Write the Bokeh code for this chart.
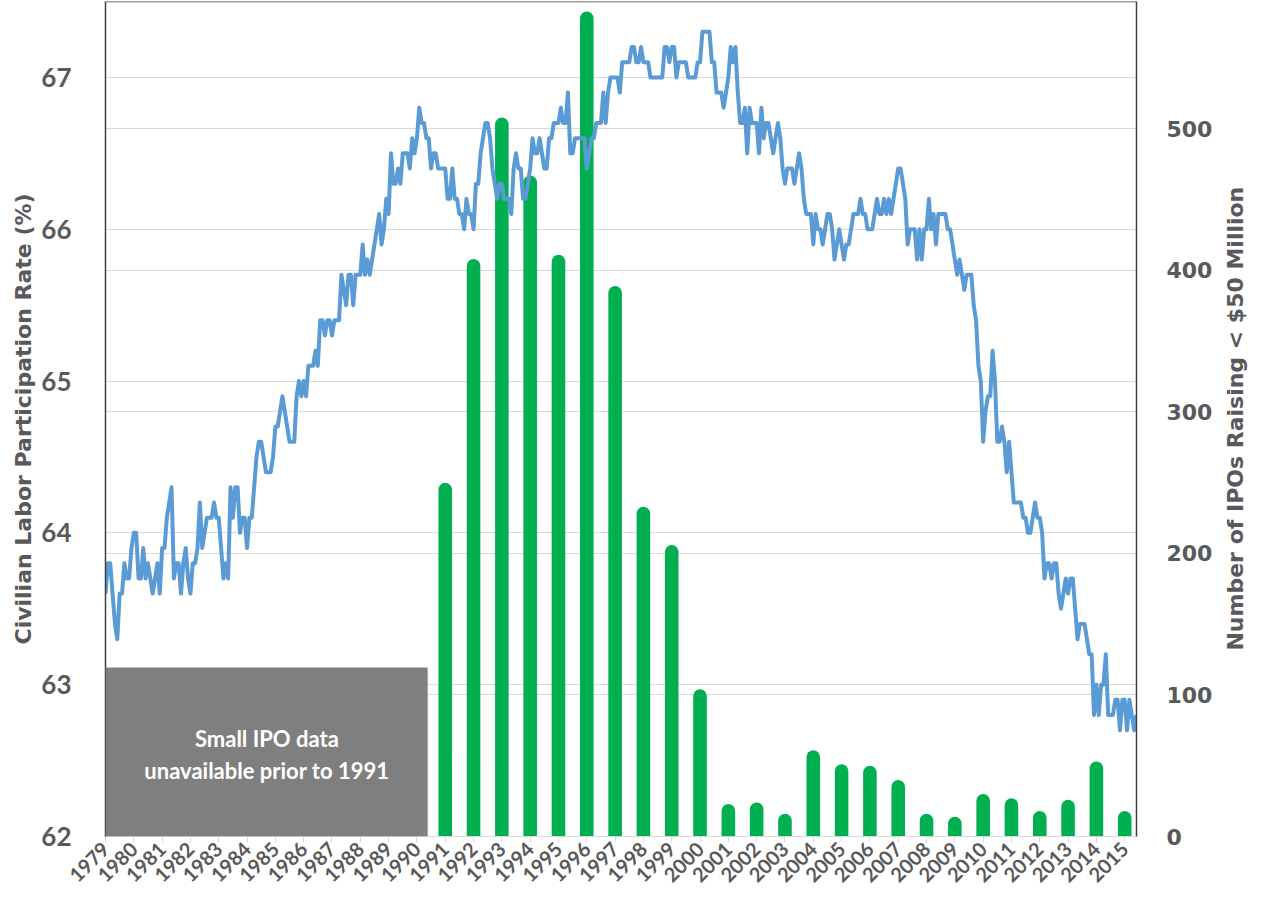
import math
from bokeh.plotting import figure
from bokeh.layouts import row
from bokeh.models import (Range1d, LinearAxis, FixedTicker, Grid, BoxAnnotation,
                          Label, Span)
from bokeh.embed import file_html
from bokeh.resources import INLINE

# ---------------- data ----------------
years = list(range(1979, 2016))
year_labels = [str(y) for y in years]

ipo_years = list(range(1991, 2016))
ipo_counts = [250, 408, 508, 467, 411, 583, 389, 233, 206, 104,
              23, 24, 16, 61, 51, 50, 40, 16, 14, 30,
              27, 18, 26, 53, 18]

# Civilian labor force participation rate, monthly from Jan 1979
lfpr_start = 1979
lfpr = [
    63.6, 63.8, 63.8, 63.6, 63.4, 63.3, 63.6, 63.6, 63.8, 63.7, 63.7, 63.9,  # 1979
    64.0, 64.0, 63.7, 63.7, 63.9, 63.7, 63.8, 63.7, 63.6, 63.7, 63.8, 63.6,  # 1980
    63.9, 63.9, 64.1, 64.2, 64.3, 63.7, 63.8, 63.8, 63.6, 63.8, 63.9, 63.7,  # 1981
    63.6, 63.8, 63.8, 63.9, 64.2, 63.9, 64.0, 64.1, 64.1, 64.1, 64.2, 64.1,  # 1982
    64.1, 63.9, 63.7, 63.8, 63.7, 64.3, 64.1, 64.3, 64.3, 64.0, 64.1, 64.1,  # 1983
    63.9, 64.1, 64.1, 64.3, 64.5, 64.6, 64.6, 64.5, 64.4, 64.4, 64.4, 64.5,  # 1984
    64.7, 64.7, 64.8, 64.9, 64.8, 64.7, 64.6, 64.6, 64.6, 64.9, 65.0, 64.9,  # 1985
    65.0, 64.9, 65.1, 65.1, 65.1, 65.2, 65.1, 65.4, 65.4, 65.3, 65.4, 65.4,  # 1986
    65.3, 65.4, 65.4, 65.4, 65.7, 65.6, 65.5, 65.7, 65.7, 65.5, 65.7, 65.7,  # 1987
    65.7, 65.9, 65.7, 65.8, 65.7, 65.8, 65.9, 66.0, 66.1, 65.9, 66.0, 66.2,  # 1988
    66.1, 66.5, 66.3, 66.3, 66.4, 66.3, 66.5, 66.5, 66.5, 66.4, 66.6, 66.5,  # 1989
    66.6, 66.8, 66.7, 66.7, 66.6, 66.6, 66.4, 66.5, 66.5, 66.4, 66.4, 66.4,  # 1990
    66.4, 66.2, 66.2, 66.4, 66.2, 66.2, 66.1, 66.1, 66.0, 66.2, 66.1, 66.1,  # 1991
    66.0, 66.3, 66.3, 66.5, 66.6, 66.7, 66.7, 66.6, 66.4, 66.3, 66.2, 66.3,  # 1992
    66.3, 66.2, 66.2, 66.2, 66.1, 66.4, 66.5, 66.4, 66.4, 66.2, 66.2, 66.3,  # 1993
    66.4, 66.6, 66.5, 66.5, 66.6, 66.5, 66.4, 66.4, 66.6, 66.6, 66.7, 66.7,  # 1994
    66.7, 66.8, 66.7, 66.7, 66.9, 66.5, 66.5, 66.6, 66.6, 66.6, 66.6, 66.6,  # 1995
    66.4, 66.5, 66.6, 66.6, 66.7, 66.7, 66.7, 66.9, 66.7, 66.9, 67.0, 67.0,  # 1996
    67.0, 67.0, 66.9, 67.1, 67.1, 67.1, 67.1, 67.2, 67.2, 67.1, 67.1, 67.2,  # 1997
    67.1, 67.1, 67.1, 67.0, 67.0, 67.0, 67.0, 67.0, 67.0, 67.2, 67.2, 67.1,  # 1998
    67.2, 67.2, 67.0, 67.1, 67.1, 67.1, 67.1, 67.0, 67.0, 67.0, 67.0, 67.1,  # 1999
    67.1, 67.3, 67.3, 67.3, 67.3, 67.1, 67.1, 66.9, 66.9, 66.9, 66.8, 66.9,  # 2000
    67.0, 67.2, 67.1, 67.2, 66.9, 66.7, 66.7, 66.8, 66.5, 66.8, 66.7, 66.7,  # 2001
    66.7, 66.5, 66.8, 66.6, 66.7, 66.7, 66.6, 66.5, 66.6, 66.7, 66.6, 66.4,  # 2002
    66.3, 66.4, 66.4, 66.4, 66.3, 66.4, 66.5, 66.4, 66.2, 66.1, 66.1, 66.1,  # 2003
    65.9, 66.1, 66.0, 66.0, 65.9, 66.0, 66.1, 66.1, 66.0, 65.8, 65.9, 66.0,  # 2004
    65.9, 65.8, 65.9, 65.9, 66.0, 66.1, 66.1, 66.1, 66.2, 66.1, 66.1, 66.0,  # 2005
    66.0, 66.0, 66.1, 66.2, 66.1, 66.1, 66.2, 66.1, 66.2, 66.1, 66.2, 66.3,  # 2006
    66.4, 66.4, 66.3, 66.2, 65.9, 66.0, 66.0, 66.0, 65.8, 66.0, 65.8, 66.0,  # 2007
    66.0, 66.2, 66.0, 66.1, 65.9, 66.1, 66.1, 66.1, 66.1, 66.0, 66.0, 65.9,  # 2008
    65.8, 65.7, 65.8, 65.7, 65.6, 65.7, 65.7, 65.7, 65.5, 65.4, 65.1, 65.0,  # 2009
    64.6, 64.8, 64.9, 64.9, 65.2, 65.0, 64.6, 64.6, 64.7, 64.6, 64.4, 64.6,  # 2010
    64.4, 64.2, 64.2, 64.2, 64.2, 64.1, 64.1, 64.0, 64.0, 64.1, 64.2, 64.1,  # 2011
    64.1, 64.0, 63.7, 63.8, 63.8, 63.7, 63.8, 63.8, 63.6, 63.5, 63.6, 63.7,  # 2012
    63.6, 63.7, 63.7, 63.5, 63.3, 63.4, 63.4, 63.4, 63.3, 63.2, 63.2, 62.8,  # 2013
    63.0, 62.8, 63.0, 63.0, 63.2, 62.8, 62.8, 62.8, 62.9, 62.9, 62.7, 62.9,  # 2014
    62.9, 62.7, 62.9, 62.8, 62.7, 62.8,                                      # 2015
]

left_ticks = [62, 63, 64, 65, 66, 67]
right_ticks = [0, 100, 200, 300, 400, 500]

left_title = "Civilian Labor Participation Rate (%)"
right_title = "Number of IPOs Raising < $50  Million"
note_lines = ["Small IPO data", "unavailable prior to 1991"]

# ---------------- figure ----------------
TXT = "#595959"
GRID = "#D9D9D9"
DARK = "#404040"

lfpr_x = [lfpr_start + i / 12 for i in range(len(lfpr))]
x_end = lfpr_x[-1]

FRAME_W, FRAME_H = 1031, 835
B_LEFT, B_RIGHT, B_TOP, B_BOTTOM = 105, 80, 1, 60
p = figure(frame_width=FRAME_W, frame_height=FRAME_H,
           x_range=Range1d(lfpr_start, x_end), y_range=Range1d(62, 67.5),
           output_backend="svg", toolbar_location=None,
           min_border_left=B_LEFT, min_border_right=B_RIGHT,
           min_border_top=B_TOP, min_border_bottom=B_BOTTOM)
p.extra_y_ranges = {"ipo": Range1d(0, 590)}
p.outline_line_color = None
p.background_fill_color = "white"
p.border_fill_color = "white"

# grids
p.xgrid.grid_line_color = None
p.ygrid.ticker = FixedTicker(ticks=left_ticks)
p.ygrid.grid_line_color = GRID
p.ygrid.grid_line_width = 1.2
g2 = Grid(dimension=1, ticker=FixedTicker(ticks=right_ticks), y_range_name="ipo",
          grid_line_color=GRID, grid_line_width=1.2)
p.add_layout(g2)

# bars
p.vbar(x=ipo_years, top=ipo_counts, bottom=0, width=0.48, y_range_name="ipo",
       fill_color="#00B050", line_color=None, border_radius=(7, 7, 0, 0))

# line
p.line(x=lfpr_x, y=lfpr, line_color="#5B9BD5", line_width=4, line_join="round")

# note box
box = BoxAnnotation(left=lfpr_start, right=1990.38, bottom=62, top=63.113,
                    fill_color="#7F7F7F", fill_alpha=1.0, line_color=None)
p.add_layout(box)
for txt, yy in zip(note_lines, [62.646, 62.435]):
    p.add_layout(Label(x=1984.7, y=yy, text=txt, text_align="center",
                       text_baseline="middle", text_color="white",
                       text_font="Lato", text_font_style="bold",
                       text_font_size="22px"))

# top border
p.add_layout(Span(location=67.5, dimension="width", line_color=DARK, line_width=1.5))

# x axis
xa = p.xaxis[0]
xa.ticker = FixedTicker(ticks=years)
xa.major_label_overrides = {y: s for y, s in zip(years, year_labels)}
xa.major_label_orientation = math.pi / 4
xa.major_label_text_font = "Lato"
xa.major_label_text_font_style = "bold"
xa.major_label_text_font_size = "20px"
xa.major_label_text_color = TXT
xa.axis_line_color = GRID
xa.axis_line_width = 1.2
xa.major_tick_line_color = GRID
xa.major_tick_out = 6
xa.major_tick_in = 0
xa.minor_tick_line_color = None
xa.major_label_standoff = 3

# left axis
ya = p.yaxis[0]
ya.ticker = FixedTicker(ticks=left_ticks)
ya.axis_line_color = DARK
ya.axis_line_width = 1.5
ya.major_tick_line_color = None
ya.minor_tick_line_color = None
ya.major_label_text_font = "Lato"
ya.major_label_text_font_style = "bold"
ya.major_label_text_font_size = "26px"
ya.major_label_text_color = TXT
ya.major_label_standoff = 28
ya.axis_label = left_title
ya.axis_label_text_font = "DejaVu Sans"
ya.axis_label_text_font_style = "bold"
ya.axis_label_text_font_size = "22px"
ya.axis_label_text_color = TXT
ya.axis_label_standoff = 2

# right axis
ra = LinearAxis(y_range_name="ipo", ticker=FixedTicker(ticks=right_ticks))
ra.axis_line_color = DARK
ra.axis_line_width = 1.5
ra.major_tick_line_color = None
ra.minor_tick_line_color = None
ra.major_label_text_font = "DejaVu Sans"
ra.major_label_text_font_style = "bold"
ra.major_label_text_font_size = "22px"
ra.major_label_text_color = TXT
ra.major_label_standoff = 24
p.add_layout(ra, "right")

# ---- narrow side panel carrying the right-axis title (reads bottom-to-top) ----
SIDE_W = 40
TOTAL_H = B_TOP + FRAME_H + B_BOTTOM
side = figure(width=SIDE_W, height=TOTAL_H, x_range=Range1d(0, SIDE_W),
              y_range=Range1d(0, TOTAL_H), output_backend="svg",
              toolbar_location=None, min_border=0)
side.axis.visible = False
side.grid.visible = False
side.outline_line_color = None
side.background_fill_color = "white"
side.border_fill_color = "white"
side.add_layout(Label(x=19, y=B_BOTTOM + FRAME_H / 2 - 25,
                      text=right_title, angle=math.pi / 2,
                      text_align="center", text_baseline="middle",
                      text_color=TXT, text_font="DejaVu Sans",
                      text_font_style="bold", text_font_size="22px"))

layout = row(p, side)
open("out.html", "w").write(file_html(layout, INLINE))
